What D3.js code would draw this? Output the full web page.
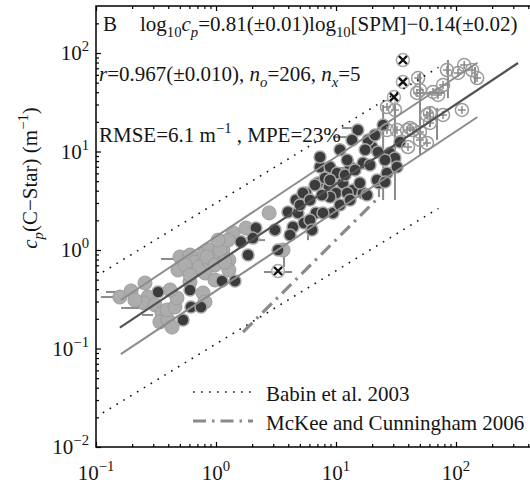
<!DOCTYPE html>
<html><head><meta charset="utf-8">
<script src="https://cdn.jsdelivr.net/npm/d3@7"></script>
<style>html,body{margin:0;padding:0;background:#fff;} svg{display:block;} svg text{font-family:"Liberation Serif","Tinos","Times New Roman","DejaVu Serif",serif;}</style>
</head><body>
<svg id="c" width="530" height="485"></svg>
<script>
// ---- data (SPM in g m^-3, cp in m^-1) ----
const lightSPM = [0.158,0.196,0.256,0.271,0.251,0.310,0.355,0.341,0.398,0.391,0.455,0.473,0.501,0.607,0.668,0.794,0.891,0.981,0.681,0.810,0.482,0.780,0.810,0.430,0.721,0.875,1.14,1.28,1.39,1.78,2.77,3.62,1.28,1.08,1.26,0.841,0.552,0.98,0.607,0.211,0.414,
  0.98,1.19,0.607,1.04];
const lightCp  = [0.333,0.384,0.462,0.333,0.290,0.277,0.229,0.186,0.195,0.246,0.264,0.326,0.849,0.889,0.755,0.911,1.0,0.849,0.627,0.584,0.627,0.366,0.297,0.165,0.672,0.755,1.0,0.791,1.49,1.67,2.38,1.0,0.627,1.0,1.26,0.849,0.705,0.496,0.473,0.31,0.393,
  0.705,0.755,0.557,1.26];

const darkSPM = [0.329,0.607,0.619,0.750,0.531,1.12,1.44,1.85,1.61,2.15,2.03,3.29,3.98,4.82,4.38,5.41,4.64,5.62,6.81,7.08,8.75,10.0,11.4,13.9,16.8,22.8,9.44,7.36,6.68,5.31,15.2,13.6,24.7,20.0,22.4,28.2,34.1,16.8,13.1,8.91,10.2,8.09,15.8,22.0,26.6,31.0,32.2,8.91,12.4,18.1,25.6,7.79,6.07,7.36,12.4,18.5,10.8,
  5.01,6.07,7.64,10.8,13.1,11.9,14.4,19.2,25.6,21.1,17.5,8.91,4.14,6.31,3.10];
const darkCp  = [0.375,0.393,0.264,0.264,0.195,0.484,0.484,0.889,1.21,1.67,1.32,1.0,2.43,2.38,1.71,1.88,3.22,3.79,2.38,4.79,4.36,3.79,4.79,4.06,3.79,4.79,2.38,6.96,4.57,3.79,16.5,13.1,18.6,11.1,9.89,9.66,12.5,7.64,6.96,6.96,6.05,5.38,4.79,5.14,6.05,8.59,6.96,3.45,3.79,3.62,4.90,2.38,2.02,8.79,8.2,13.1,10.4,
  2.86,3.22,3.62,2.86,3.22,5.77,6.49,7.29,8.2,14.7,10.4,5.14,1.42,1.60,1.60];

const openSPM = [31.0,32.2,39.1,47.3,48.3,50.1,64.3,70.8,78.0,84.1,117,136,150,60.7,78.0,112,60.7,50.1,43.8,39.8,50.1,57.3,26.6,26.6,57.3,104,41.4];
const openCp  = [26.4,16.5,16.5,39.3,55.7,42.1,40.2,37.5,47.3,67.2,75.5,67.2,55.7,24.6,23.5,26.4,19.5,15.8,16.5,11.1,13.1,12.2,28.3,16.5,23.5,62.7,17.3];

const crossSPM = [36.1,36.1,30.4,3.29];
const crossCp  = [84.9,50.8,35.7,0.612];

// horizontal error bars: [cp, spmLo, spmHi]
const hBarCp    = [0.375,0.333,0.258,0.811,0.219,0.598,1.26,1.26,14.0,17.3,39.3,6.80];
const hBarSPMlo = [0.121,0.110,0.162,0.348,0.242,2.51,1.14,2.03,9.44,11.2,47.3,10.2];
const hBarSPMhi = [0.203,0.158,0.228,0.482,0.299,4.30,1.68,2.56,13.9,15.8,80.9,20.0];
// vertical error bars: [spm, cpLo, cpHi]
const vBarSPM  = [24.7,31.0,50.1,69.5,85.7,0.908,5.84,22.8,3.69,144,60.7];
const vBarCpLo = [3.22,3.22,9.21,13.1,34.9,0.441,1.26,3.45,0.672,49.6,17.7];
const vBarCpHi = [29.7,35.7,62.7,27.7,84.9,0.584,1.60,4.57,0.954,72.1,28.3];

// model / reference lines (end points)
const fitSPM = [0.158, 329],  fitCp = [0.163, 79.2];
const upSPM  = [0.161, 151],  upCp  = [0.311, 79.6];
const loSPM  = [0.161, 151],  loCp  = [0.0877, 22.4];
const babinSPM = [0.114, 71.4], babinUpCp = [0.598, 71.4], babinLoCp = [0.0222, 2.65];
const mckeeSPM = [1.68, 22.4], mckeeCp = [0.147, 3.37];

const xMajor = [0.1, 1, 10, 100], xExp = ["\u22121","0","1","2"];
const yMajor = [0.01, 0.1, 1, 10, 100], yExp = ["\u22122","\u22121","0","1","2"];

// ---- drawing ----
const FS = 21;
const svg = d3.select("#c");
const x = d3.scaleLog().domain([0.1, 500]).range([96, 96 + Math.log10(5000) * 120]);
const y = d3.scaleLog().domain([0.01, 300]).range([447, 447 - Math.log10(30000) * 98.5]);
const [x0, x1] = x.range(), [y0, y1] = y.range();

const minor = (dom) => {
  const out = [];
  for (let e = Math.floor(Math.log10(dom[0])); e <= Math.ceil(Math.log10(dom[1])); e++)
    for (let k = 2; k <= 9; k++) { const v = k * Math.pow(10, e); if (v > dom[0] && v < dom[1]) out.push(v); }
  return out;
};

function axisG(axis, tr) {
  const g = svg.append("g").attr("transform", tr).call(axis);
  g.select(".domain").remove();
  g.selectAll("line").attr("stroke", "#000").attr("stroke-width", 1.2);
  g.selectAll("text").remove();
}
const xs = [[xMajor, 5], [minor(x.domain()), 3]];
const ys = [[yMajor, 5], [minor(y.domain()), 3]];
xs.forEach(([vals, len]) => {
  axisG(d3.axisBottom(x).tickValues(vals).tickSize(-len).tickSizeOuter(0), `translate(0,${y0})`);
  axisG(d3.axisTop(x).tickValues(vals).tickSize(-len).tickSizeOuter(0), `translate(0,${y1})`);
});
ys.forEach(([vals, len]) => {
  axisG(d3.axisLeft(y).tickValues(vals).tickSize(-len).tickSizeOuter(0), `translate(${x0},0)`);
});
svg.append("rect").attr("x", x0).attr("y", y1).attr("width", x1 - x0).attr("height", y0 - y1)
  .attr("fill", "none").attr("stroke", "#000").attr("stroke-width", 1.5);

function rich(g, px, py, parts, size, anchor) {
  const t = g.append("text").attr("x", px).attr("y", py)
    .attr("font-size", size).attr("text-anchor", anchor || "start").attr("fill", "#151515");
  let cur = 0;
  parts.forEach(p => {
    const shift = p.sub ? size * 0.3 : p.sup ? -size * 0.42 : 0;
    const ts = t.append("tspan").attr("dy", shift - cur).text(p.t);
    if (p.sub || p.sup) ts.attr("font-size", size * 0.7);
    if (p.it) ts.attr("font-style", "italic");
    cur = shift;
  });
  return t;
}

// tick labels
xMajor.forEach((v, i) => rich(svg, x(v), 480, [{t: "10"}, {t: xExp[i], sup: true}], FS, "middle"));
yMajor.forEach((v, i) => rich(svg, 89, y(v) + 7, [{t: "10"}, {t: yExp[i], sup: true}], FS, "end"));

// y axis title
const yt = svg.append("g").attr("transform", "translate(37,178) rotate(-90)");
rich(yt, 0, 0, [{t: "c", it: true}, {t: "p", sub: true, it: true}, {t: "(C\u2212Star) (m"}, {t: "\u22121", sup: true}, {t: ")"}], FS, "middle");

const plot = svg.append("g");
// error bars
const barStyle = s => s.attr("stroke", "#8a8a8a").attr("stroke-width", 2);
hBarCp.forEach((c, i) => plot.append("line").attr("x1", x(hBarSPMlo[i])).attr("x2", x(hBarSPMhi[i]))
  .attr("y1", y(c)).attr("y2", y(c)).call(barStyle));
vBarSPM.forEach((s, i) => plot.append("line").attr("x1", x(s)).attr("x2", x(s))
  .attr("y1", y(vBarCpLo[i])).attr("y2", y(vBarCpHi[i])).call(barStyle));

// light points
plot.selectAll(".l").data(d3.zip(lightSPM, lightCp)).join("circle")
  .attr("cx", d => x(d[0])).attr("cy", d => y(d[1])).attr("r", 7)
  .attr("fill", "#adadad").attr("stroke", "#9c9c9c").attr("stroke-width", 1);
// dark points
plot.selectAll(".d").data(d3.zip(darkSPM, darkCp)).join("circle")
  .attr("cx", d => x(d[0])).attr("cy", d => y(d[1])).attr("r", 6)
  .attr("fill", "#3b3b3b").attr("stroke", "#a5a5a5").attr("stroke-width", 1.5);
// open points with plus
const og = plot.selectAll(".o").data(d3.zip(openSPM, openCp)).join("g")
  .attr("transform", d => `translate(${x(d[0])},${y(d[1])})`);
og.append("circle").attr("r", 6.5).attr("fill", "none").attr("stroke", "#9a9a9a").attr("stroke-width", 1.5);
og.append("path").attr("d", "M-4,0H4M0,-4V4").attr("stroke", "#8a8a8a").attr("stroke-width", 1.5);
// excluded points
const cg = plot.selectAll(".x").data(d3.zip(crossSPM, crossCp)).join("g")
  .attr("transform", d => `translate(${x(d[0])},${y(d[1])})`);
cg.append("circle").attr("r", 6.5).attr("fill", "#fff").attr("fill-opacity", 0.6).attr("stroke", "#aaa").attr("stroke-width", 1.5);
cg.append("path").attr("d", "M-4,-4L4,4M-4,4L4,-4").attr("stroke", "#111").attr("stroke-width", 2.4);

// lines
const seg = (sx, sy) => d3.line()(sx.map((s, i) => [x(s), y(sy[i])]));
plot.append("path").attr("d", seg(upSPM, upCp)).attr("stroke", "#8c8c8c").attr("stroke-width", 2).attr("fill", "none");
plot.append("path").attr("d", seg(loSPM, loCp)).attr("stroke", "#8c8c8c").attr("stroke-width", 2).attr("fill", "none");
plot.append("path").attr("d", seg(fitSPM, fitCp)).attr("stroke", "#525252").attr("stroke-width", 2.2).attr("fill", "none");
const dotStyle = s => s.attr("stroke", "#111").attr("stroke-width", 1.6).attr("stroke-dasharray", "1.6,6.4").attr("fill", "none");
const ddStyle = s => s.attr("stroke", "#8a8a8a").attr("stroke-width", 3.2).attr("stroke-dasharray", "13,6,2.5,6").attr("fill", "none");
plot.append("path").attr("d", seg(babinSPM, babinUpCp)).call(dotStyle);
plot.append("path").attr("d", seg(babinSPM, babinLoCp)).call(dotStyle);
plot.append("path").attr("d", seg(mckeeSPM, mckeeCp)).call(ddStyle);

// annotations
rich(svg, 103, 31, [{t: "B"}], FS);
rich(svg, 140, 31, [{t: "log"}, {t: "10", sub: true}, {t: "c", it: true}, {t: "p", sub: true, it: true},
  {t: "=0.81(\u00b10.01)log"}, {t: "10", sub: true}, {t: "[SPM]\u22120.14(\u00b10.02)"}], FS);
rich(svg, 99, 81, [{t: "r", it: true}, {t: "=0.967(\u00b10.010), "}, {t: "n", it: true}, {t: "o", sub: true, it: true},
  {t: "=206, "}, {t: "n", it: true}, {t: "x", sub: true, it: true}, {t: "=5"}], FS);
rich(svg, 99, 142, [{t: "RMSE=6.1 m"}, {t: "\u22121", sup: true}, {t: " , MPE=23%"}], FS);

// legend
svg.append("path").attr("d", "M193,392H253").call(dotStyle);
svg.append("path").attr("d", "M193,421H253").call(ddStyle);
rich(svg, 266, 401, [{t: "Babin et al. 2003"}], FS);
rich(svg, 266, 430, [{t: "McKee and Cunningham 2006"}], FS);
</script>
</body></html>
